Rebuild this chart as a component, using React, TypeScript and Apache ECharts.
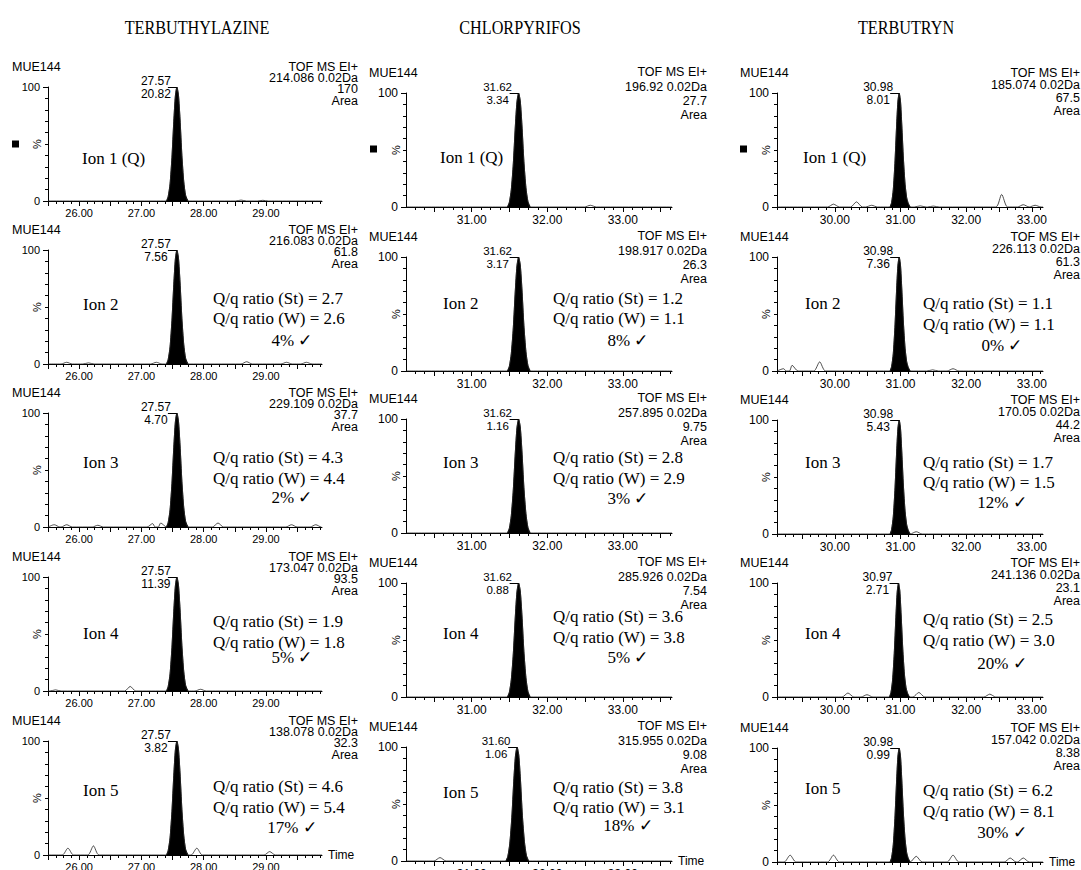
import React, { useEffect, useRef } from 'react';
import * as echarts from 'echarts';

// ---------------- DATA ----------------
const COMPOUNDS = ['TERBUTHYLAZINE', 'CHLORPYRIFOS', 'TERBUTRYN'];
const ION_NAMES = ['Ion 1 (Q)', 'Ion 2', 'Ion 3', 'Ion 4', 'Ion 5'];
const SAMPLE = 'MUE144';
const MODE = 'TOF MS EI+';

const RT_TBZ = [27.57, 27.57, 27.57, 27.57, 27.57];
const RT_CPF = [31.62, 31.62, 31.62, 31.62, 31.6];
const RT_TBY = [30.98, 30.98, 30.98, 30.97, 30.98];

const HEIGHT_TBZ = ['20.82', '7.56', '4.70', '11.39', '3.82'];
const HEIGHT_CPF = ['3.34', '3.17', '1.16', '0.88', '1.06'];
const HEIGHT_TBY = ['8.01', '7.36', '5.43', '2.71', '0.99'];

const MASS_TBZ = ['214.086', '216.083', '229.109', '173.047', '138.078'];
const MASS_CPF = ['196.92', '198.917', '257.895', '285.926', '315.955'];
const MASS_TBY = ['185.074', '226.113', '170.05', '241.136', '157.042'];

const AREA_TBZ = ['170', '61.8', '37.7', '93.5', '32.3'];
const AREA_CPF = ['27.7', '26.3', '9.75', '7.54', '9.08'];
const AREA_TBY = ['67.5', '61.3', '44.2', '23.1', '8.38'];

const RATIO_ST_TBZ = ['', '2.7', '4.3', '1.9', '4.6'];
const RATIO_W_TBZ = ['', '2.6', '4.4', '1.8', '5.4'];
const DEV_TBZ = ['', '4%', '2%', '5%', '17%'];
const RATIO_ST_CPF = ['', '1.2', '2.8', '3.6', '3.8'];
const RATIO_W_CPF = ['', '1.1', '2.9', '3.8', '3.1'];
const DEV_CPF = ['', '8%', '3%', '5%', '18%'];
const RATIO_ST_TBY = ['', '1.1', '1.7', '2.5', '6.2'];
const RATIO_W_TBY = ['', '1.1', '1.5', '3.0', '8.1'];
const DEV_TBY = ['', '0%', '12%', '20%', '30%'];

const X_LABELS_TBZ = [26, 27, 28, 29];
const X_LABELS_CPF = [31, 32, 33];
const X_LABELS_TBY = [30, 31, 32, 33];
const X_RANGE_TBZ = [25.5, 29.9];
const X_RANGE_CPF = [30.13, 33.65];
const X_RANGE_TBY = [29.12, 33.17];

// peak profiles: time offset from apex (min) and intensity (%)
const PEAK_OFF_TBZ = [-0.17, -0.14, -0.11, -0.08, -0.05, -0.025, 0, 0.025, 0.05, 0.08, 0.11, 0.14, 0.18];
const PEAK_PCT_TBZ = [0, 4, 15, 38, 70, 92, 100, 93, 72, 40, 17, 5, 0];
const PEAK_OFF_CPF = [-0.15, -0.123, -0.097, -0.07, -0.044, -0.022, 0, 0.022, 0.044, 0.07, 0.097, 0.123, 0.155];
const PEAK_PCT_CPF = [0, 4, 15, 38, 70, 92, 100, 93, 72, 40, 17, 5, 0];
const PEAK_OFF_TBY = [-0.14, -0.115, -0.09, -0.065, -0.04, -0.02, 0, 0.02, 0.04, 0.065, 0.09, 0.115, 0.14, 0.17];
const PEAK_PCT_TBY = [0, 4, 15, 38, 70, 92, 100, 93, 72, 42, 20, 8, 3, 0];

// baseline noise bumps: [time, %]
const BUMPS_TBZ = [
  [[28.6, 0.8], [28.95, 0.6]],
  [[25.8, 1.5], [26.15, 1], [27.24, 1.5], [28.69, 2], [29.33, 1.5], [29.65, 1.5]],
  [[25.6, 2], [25.8, 2], [26.3, 1.5], [27.18, 3], [27.31, 3.5], [28.23, 3.5], [29.41, 2], [29.8, 2]],
  [[25.62, 1], [26.82, 4], [27.95, 1.5]],
  [[25.82, 6], [26.23, 8], [27.89, 6], [29.06, 3]],
];
const BUMPS_CPF = [
  [[32.57, 1.5]],
  [],
  [],
  [],
  [[30.58, 3]],
];
const BUMPS_TBY = [
  [[29.98, 2.5], [30.33, 4.5], [30.56, 1.5], [31.3, 1], [31.5, 0.8], [32.54, 11], [32.87, 2], [33.05, 1.5]],
  [[29.22, 2], [29.35, 5], [29.77, 8], [31.49, 1], [31.8, 2]],
  [[31.24, 2]],
  [[30.2, 3.5], [30.49, 2], [31.28, 4], [32.36, 2.5]],
  [[29.32, 6], [29.98, 6], [31.24, 5], [31.8, 6], [32.67, 3.5], [32.87, 3.5]],
];

const COLS = [
  { name: COMPOUNDS[0], rt: RT_TBZ, hts: HEIGHT_TBZ, mass: MASS_TBZ, area: AREA_TBZ, st: RATIO_ST_TBZ, w: RATIO_W_TBZ, dev: DEV_TBZ, bumps: BUMPS_TBZ, pOff: PEAK_OFF_TBZ, pPct: PEAK_PCT_TBZ, xr: X_RANGE_TBZ, xl: X_LABELS_TBZ },
  { name: COMPOUNDS[1], rt: RT_CPF, hts: HEIGHT_CPF, mass: MASS_CPF, area: AREA_CPF, st: RATIO_ST_CPF, w: RATIO_W_CPF, dev: DEV_CPF, bumps: BUMPS_CPF, pOff: PEAK_OFF_CPF, pPct: PEAK_PCT_CPF, xr: X_RANGE_CPF, xl: X_LABELS_CPF },
  { name: COMPOUNDS[2], rt: RT_TBY, hts: HEIGHT_TBY, mass: MASS_TBY, area: AREA_TBY, st: RATIO_ST_TBY, w: RATIO_W_TBY, dev: DEV_TBY, bumps: BUMPS_TBY, pOff: PEAK_OFF_TBY, pPct: PEAK_PCT_TBY, xr: X_RANGE_TBY, xl: X_LABELS_TBY },
];

// ---------------- LAYOUT ----------------
const SANS = "'Liberation Sans', Arial, sans-serif";
const SERIF = "'Liberation Serif', 'Times New Roman', serif";
const PANEL_H = 114;
const LAYOUT = [
  {
    left: 48, width: 274, tops: [87, 250, 413, 577, 741], mueX: 12, mueDy: -20, infoR: 358,
    infoLh: 11.2, infoFs: 12.5, tickFs: 11, peakFs: 12, ionX: 83, ion1X: 82, ion1Dy: 71,
    qX: 213, pctX: 292, sqX: 12, sqDy: 53.5, halfW: 0.09, titleX: 197, titleY: 28, yGap: 6, xMargin: 6,
    offs: [[0, 0, 0, 0], [54, 48, 68, 90], [49, 44, 65, 84], [56, 44, 65, 80], [49, 45, 66, 86]],
  },
  {
    left: 406, width: 266, tops: [93, 257, 419, 583, 747], mueX: 369, mueDy: -20.5, infoR: 707,
    infoLh: 14.2, infoFs: 12.5, tickFs: 12, peakFs: 11.5, ionX: 443, ion1X: 440, ion1Dy: 64,
    qX: 553, pctX: 628, sqX: 370, sqDy: 52.5, halfW: 0.08, titleX: 520, titleY: 28, yGap: 5, xMargin: 7,
    offs: [[0, 0, 0, 0], [46, 41, 61, 83], [43, 38, 59, 79], [50, 33, 54, 74], [45, 40, 60, 78]],
  },
  {
    left: 777, width: 266, tops: [93, 257, 420, 583, 748], mueX: 740, mueDy: -20.5, infoR: 1080,
    infoLh: 12.7, infoFs: 12.5, tickFs: 12, peakFs: 12, ionX: 805, ion1X: 803, ion1Dy: 64,
    qX: 923, pctX: 1002, sqX: 740, sqDy: 52.5, halfW: 0.09, titleX: 906, titleY: 28, yGap: 6, xMargin: 7,
    offs: [[0, 0, 0, 0], [46, 46, 67, 88], [42, 42, 62, 82], [50, 36, 57, 80], [40, 42, 63, 84]],
  },
];

const txt = (x: number, y: number, text: string, size: number, family: string, align = 'left', extra: any = {}, vAlign = 'middle', lineHeight?: number) => ({
  type: 'text',
  x,
  y,
  silent: true,
  ...extra,
  style: {
    text,
    fontSize: size,
    fontFamily: family,
    fill: '#000',
    align,
    textAlign: align,
    verticalAlign: vAlign,
    textVerticalAlign: vAlign,
    ...(lineHeight ? { lineHeight } : {}),
  },
});

export default function App() {
  const ref = useRef<HTMLDivElement>(null);

  useEffect(() => {
    if (!ref.current) return;
    const chart = echarts.init(ref.current, null, { renderer: 'svg' });

    const grids: any[] = [];
    const xAxes: any[] = [];
    const yAxes: any[] = [];
    const series: any[] = [];
    const graphics: any[] = [];

    COLS.forEach((col, c) => {
      const L = LAYOUT[c];
      graphics.push(txt(L.titleX, L.titleY, col.name, 18, SERIF, 'center', { scaleX: 0.9 }));
      const [xmin, xmax] = col.xr;

      const minorTicks: number[] = [];
      for (let k = Math.ceil(xmin * 8); k <= Math.floor(xmax * 8); k++) minorTicks.push(k / 8);
      const majorTicks: number[] = [];
      for (let k = Math.ceil(xmin * 2); k <= Math.floor(xmax * 2); k++) majorTicks.push(k / 2);

      for (let r = 0; r < 5; r++) {
        const gi = grids.length;
        const top = L.tops[r];
        grids.push({ left: L.left, top, width: L.width, height: PANEL_H, outerBoundsMode: 'none' });

        xAxes.push({
          type: 'value',
          gridIndex: gi,
          min: xmin,
          max: xmax,
          position: 'bottom',
          axisLine: { show: true, onZero: false, lineStyle: { color: '#000', width: 1 } },
          axisTick: { show: true, customValues: minorTicks, length: 3, lineStyle: { color: '#000', width: 1 } },
          axisLabel: {
            show: true,
            customValues: col.xl,
            formatter: (v: number) => v.toFixed(2),
            margin: L.xMargin,
            fontSize: L.tickFs,
            fontFamily: SANS,
            color: '#000',
          },
          splitLine: { show: false },
          name: r === 4 ? 'Time' : '',
          nameLocation: 'end',
          nameGap: 6,
          nameMoveOverlap: false,
          nameTextStyle: { fontSize: 12, fontFamily: SANS, color: '#000', verticalAlign: 'middle' },
        });
        xAxes.push({
          type: 'value',
          gridIndex: gi,
          min: xmin,
          max: xmax,
          position: 'bottom',
          axisLine: { show: false, onZero: false },
          axisTick: { show: true, customValues: majorTicks, length: 5, lineStyle: { color: '#000', width: 1 } },
          axisLabel: { show: false },
          splitLine: { show: false },
        });
        yAxes.push({
          type: 'value',
          gridIndex: gi,
          min: 0,
          max: 100,
          interval: 100,
          axisLine: { show: true, lineStyle: { color: '#000', width: 1 } },
          axisTick: { show: true, length: 5, lineStyle: { color: '#000', width: 1 } },
          minorTick: { show: true, splitNumber: 10, length: 3, lineStyle: { color: '#000', width: 1 } },
          axisLabel: { margin: 8, fontSize: L.tickFs, fontFamily: SANS, color: '#000' },
          splitLine: { show: false },
          minorSplitLine: { show: false },
          name: '%',
          nameLocation: 'middle',
          nameRotate: 90,
          nameGap: L.yGap,
          nameMoveOverlap: false,
          nameTextStyle: { fontSize: 11, fontFamily: SANS, color: '#000' },
        });

        const rt = col.rt[r];
        const peakPts: number[][] = col.pOff.map((o, i) => [rt + o, col.pPct[i]]);
        const trace: number[][] = [[xmin, 0], [xmax, 0]];
        col.bumps[r].forEach(([t, h]) => {
          trace.push([t - L.halfW, 0], [t, h], [t + L.halfW, 0]);
        });
        peakPts.forEach((p) => trace.push(p));
        trace.sort((a, b) => a[0] - b[0]);

        const d = (9 * (xmax - xmin)) / L.width;

        series.push({
          type: 'line',
          xAxisIndex: 2 * gi,
          yAxisIndex: gi,
          data: peakPts,
          symbol: 'none',
          smooth: 0.2,
          silent: true,
          z: 2,
          lineStyle: { color: '#000', width: 0.8 },
          areaStyle: { color: '#000', opacity: 1 },
          markPoint: {
            silent: true,
            symbol: 'rect',
            symbolSize: 1,
            itemStyle: { color: 'rgba(0,0,0,0)' },
            label: {
              show: true,
              position: 'inside',
              offset: [-21, 0],
              align: 'center',
              verticalAlign: 'middle',
              formatter: `${rt.toFixed(2)}\n${col.hts[r]}`,
              fontSize: L.peakFs,
              lineHeight: 13,
              fontFamily: SANS,
              color: '#000',
            },
            data: [{ coord: [rt, 100] }],
          },
          markLine: {
            silent: true,
            symbol: ['none', 'none'],
            label: { show: false },
            lineStyle: { color: '#000', width: 1, type: 'solid' },
            data: [[{ coord: [rt - d, 100] }, { coord: [rt, 100] }]],
          },
        });
        series.push({
          type: 'line',
          xAxisIndex: 2 * gi,
          yAxisIndex: gi,
          data: trace,
          symbol: 'none',
          smooth: 0.25,
          silent: true,
          z: 3,
          lineStyle: { color: '#222', width: 0.8 },
        });

        // annotations
        const mueY = top + L.mueDy;
        graphics.push(txt(L.mueX, mueY, SAMPLE, 12.5, SANS, 'left'));
        graphics.push(
          txt(
            L.infoR,
            mueY - L.infoLh / 2,
            `${MODE}\n${col.mass[r]} 0.02Da\n${col.area[r]}\nArea`,
            L.infoFs,
            SANS,
            'right',
            {},
            'top',
            L.infoLh
          )
        );

        if (r === 0) {
          graphics.push(txt(L.ion1X, top + L.ion1Dy, ION_NAMES[0], 17, SERIF, 'left'));
          graphics.push({
            type: 'rect',
            silent: true,
            shape: { x: L.sqX, y: top + L.sqDy, width: 7, height: 7 },
            style: { fill: '#000' },
          });
        } else {
          const [ionDy, stDy, wDy, pctDy] = L.offs[r];
          graphics.push(txt(L.ionX, top + ionDy, ION_NAMES[r], 17, SERIF, 'left'));
          graphics.push(txt(L.qX, top + stDy, `Q/q ratio (St) = ${col.st[r]}`, 17, SERIF, 'left'));
          graphics.push(txt(L.qX, top + wDy, `Q/q ratio (W) = ${col.w[r]}`, 17, SERIF, 'left'));
          graphics.push(txt(L.pctX, top + pctDy, `${col.dev[r]} \u2713`, 17, SERIF, 'center'));
        }
      }
    });

    chart.setOption({
      animation: false,
      backgroundColor: '#ffffff',
      grid: grids,
      xAxis: xAxes,
      yAxis: yAxes,
      series,
      graphic: { elements: graphics },
    });

    return () => chart.dispose();
  }, []);

  return (
    <div
      ref={ref}
      style={{ position: 'absolute', left: 0, top: 0, width: 1081, height: 870, background: '#fff' }}
    />
  );
}
